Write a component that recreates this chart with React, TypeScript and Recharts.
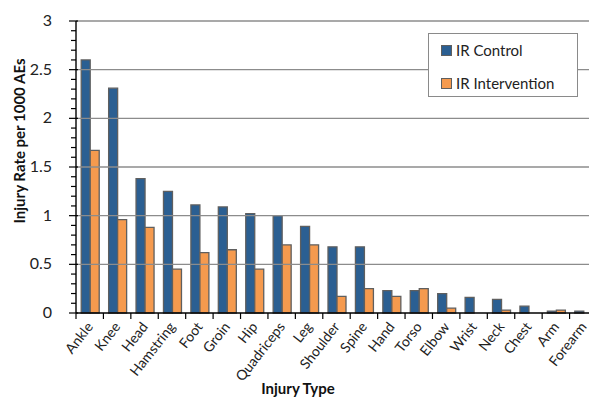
import { BarChart, Bar, XAxis, YAxis, ReferenceLine, Label } from 'recharts'

const categories = [
  'Ankle', 'Knee', 'Head', 'Hamstring', 'Foot', 'Groin', 'Hip', 'Quadriceps', 'Leg', 'Shoulder',
  'Spine', 'Hand', 'Torso', 'Elbow', 'Wrist', 'Neck', 'Chest', 'Arm', 'Forearm',
]
const controlRates = [2.6, 2.31, 1.38, 1.25, 1.11, 1.09, 1.02, 1.0, 0.89, 0.68, 0.68, 0.23, 0.23, 0.2, 0.16, 0.14, 0.07, 0.02, 0.02]
const interventionRates = [1.67, 0.96, 0.88, 0.45, 0.62, 0.65, 0.45, 0.7, 0.7, 0.17, 0.25, 0.17, 0.25, 0.05, 0, 0.03, 0, 0.03, 0]
const yTicks = [
  0, 0.1, 0.2, 0.3, 0.4, 0.5, 0.6, 0.7, 0.8, 0.9, 1, 1.1, 1.2, 1.3, 1.4, 1.5, 1.6, 1.7, 1.8, 1.9,
  2, 2.1, 2.2, 2.3, 2.4, 2.5, 2.6, 2.7, 2.8, 2.9, 3,
]
const gridValues = [0.5, 1, 1.5, 2, 2.5, 3]
const seriesNames = ['IR Control', 'IR Intervention']

const data = categories.map((name, i) => ({
  name,
  control: controlRates[i],
  intervention: interventionRates[i],
}))

const FONT = 'Lato, "Liberation Sans", sans-serif'
const BLUE = '#2b5f92'
const ORANGE = '#f59a4e'
const EDGE = '#5f5f5f'

const CHART_W = 600
const AXIS_W = 76
const RIGHT = 3
const BAND = (CHART_W - AXIS_W - RIGHT) / categories.length

// eslint-disable-next-line @typescript-eslint/no-explicit-any
const YTick = ({ x, y, payload }: any) => {
  const v = payload.value
  const major = Math.abs(v * 2 - Math.round(v * 2)) < 1e-6
  return (
    <g>
      <line x1={x - (major ? 7 : 5)} x2={x + (major ? 2 : 0)} y1={y} y2={y} stroke="#000" strokeWidth={1.2} />
      {major && (
        <text x={x - 24} y={y} dy={5} textAnchor="end" fontSize={16} fill="#222" fontFamily={FONT}>
          {v}
        </text>
      )}
    </g>
  )
}

// eslint-disable-next-line @typescript-eslint/no-explicit-any
const XTick = ({ x, y, payload }: any) => {
  const tx = x + 4
  const ty = y + 14
  return (
    <g>
      <line x1={x - BAND / 2} x2={x - BAND / 2} y1={y} y2={y + 6} stroke="#000" strokeWidth={1.2} />
      <text
        x={tx}
        y={ty}
        textAnchor="end"
        fontSize={14}
        fill="#222"
        fontFamily={FONT}
        transform={`rotate(-52 ${tx} ${ty})`}
      >
        {payload.value}
      </text>
    </g>
  )
}

const LegendBox = () => (
  <div
    style={{
      position: 'absolute',
      left: 428,
      top: 33,
      width: 150,
      height: 64,
      border: '1px solid #8a8a8a',
      background: '#fff',
      fontFamily: FONT,
      fontSize: 15,
      color: '#222',
      boxSizing: 'border-box',
      padding: '4px 0 0 12px',
    }}
  >
    {seriesNames.map((label, i) => (
      <div key={label} style={{ display: 'flex', alignItems: 'center', height: 24, marginBottom: 9 }}>
        <span
          style={{
            display: 'inline-block',
            width: 9,
            height: 9,
            background: i === 0 ? BLUE : ORANGE,
            border: `1px solid ${EDGE}`,
            marginRight: 4,
          }}
        />
        {label}
      </div>
    ))}
  </div>
)

export default function App() {
  return (
    <div style={{ position: 'fixed', left: 0, top: 0, width: 589, height: 401, overflow: 'hidden', background: '#fff' }}>
      <BarChart
        width={CHART_W}
        height={401}
        data={data}
        margin={{ top: 21, right: RIGHT, left: 0, bottom: 0 }}
        barCategoryGap="19%"
        barGap={0}
      >
        {gridValues.map((v) => (
          <ReferenceLine key={v} y={v} stroke="#8c8c8c" strokeWidth={1.4} />
        ))}
        <XAxis
          dataKey="name"
          height={88}
          interval={0}
          tickLine={false}
          tickSize={0}
          tickMargin={0}
          axisLine={{ stroke: '#000', strokeWidth: 1.4 }}
          tick={<XTick />}
        >
          <Label
            content={() => (
              <text x={298} y={394} textAnchor="middle" fontSize={15} fontWeight="bold" fill="#111" fontFamily={FONT}>
                Injury Type
              </text>
            )}
          />
        </XAxis>
        <YAxis
          width={AXIS_W}
          domain={[0, 3]}
          ticks={yTicks}
          interval={0}
          tickLine={false}
          tickSize={0}
          tickMargin={0}
          axisLine={{ stroke: '#000', strokeWidth: 1.4 }}
          tick={<YTick />}
        >
          <Label
            content={() => (
              <text
                x={25}
                y={141}
                textAnchor="middle"
                fontSize={15}
                fontWeight="bold"
                fill="#111"
                fontFamily={FONT}
                transform="rotate(-90 25 141)"
              >
                Injury Rate per 1000 AEs
              </text>
            )}
          />
        </YAxis>
        <Bar dataKey="control" name={seriesNames[0]} fill={BLUE} stroke={EDGE} strokeWidth={1.3} isAnimationActive={false} />
        <Bar
          dataKey="intervention"
          name={seriesNames[1]}
          fill={ORANGE}
          stroke={EDGE}
          strokeWidth={1.3}
          isAnimationActive={false}
        />
      </BarChart>
      <LegendBox />
    </div>
  )
}
